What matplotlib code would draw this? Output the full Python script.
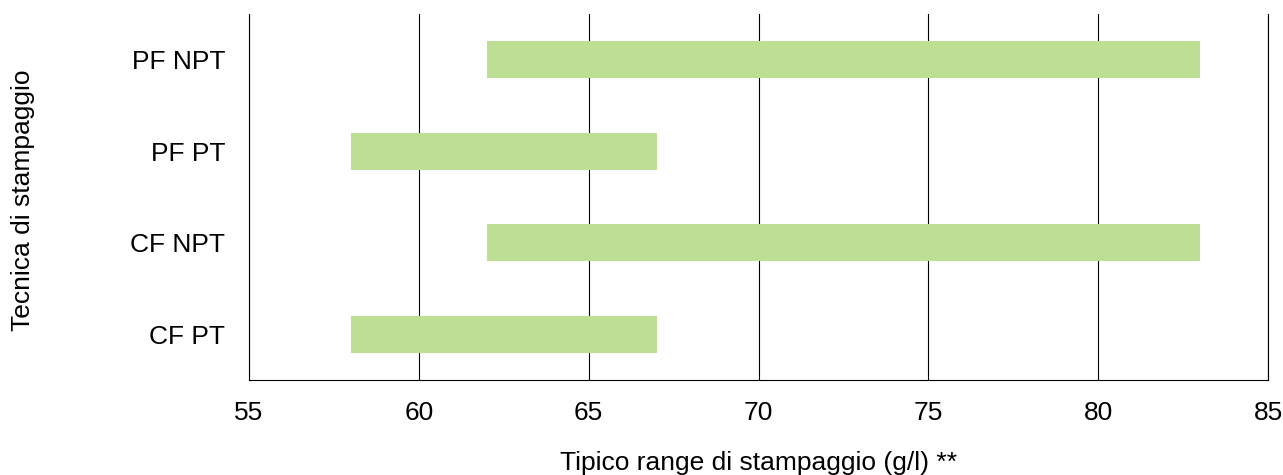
import matplotlib
matplotlib.use("Agg")
import matplotlib.pyplot as plt

categories = ["CF PT", "CF NPT", "PF PT", "PF NPT"]
range_start = [58, 62, 58, 62]
range_end = [67, 83, 67, 83]
x_ticks = [55, 60, 65, 70, 75, 80, 85]

plt.rcParams['font.family'] = ['Liberation Sans', 'DejaVu Sans']

fig = plt.figure(figsize=(12.83, 4.75), dpi=100)
ax = fig.add_axes([249/1283, 1-380/475, (1268-249)/1283, (380-14)/475])

widths = [e - s for s, e in zip(range_start, range_end)]
ax.barh(range(len(categories)), widths, left=range_start, height=0.4,
        color="#BCDF93", zorder=3)

ax.set_xlim(55, 85)
ax.set_ylim(-0.5, 3.5)
ax.set_xticks(x_ticks)
ax.set_yticks(range(len(categories)))
ax.set_yticklabels(categories)
ax.tick_params(axis='both', length=0, labelsize=19, colors='black')
ax.tick_params(axis='x', pad=15)
ax.tick_params(axis='y', pad=17)
ax.xaxis.grid(True, color='black', linewidth=0.8, zorder=1)
ax.set_axisbelow(True)
ax.spines['top'].set_visible(False)
for s in ['left', 'bottom', 'right']:
    ax.spines[s].set_color('black')
    ax.spines[s].set_linewidth(0.8)

ax.set_xlabel("Tipico range di stampaggio (g/l) **", fontsize=19)
ax.set_ylabel("Tecnica di stampaggio", fontsize=19)
ax.xaxis.set_label_coords(0.5, -(451 - 380) / 366)
ax.yaxis.set_label_coords(-(249 - 35) / 1019, (380 - 200) / 366)

fig.savefig("out.png", dpi=100)
